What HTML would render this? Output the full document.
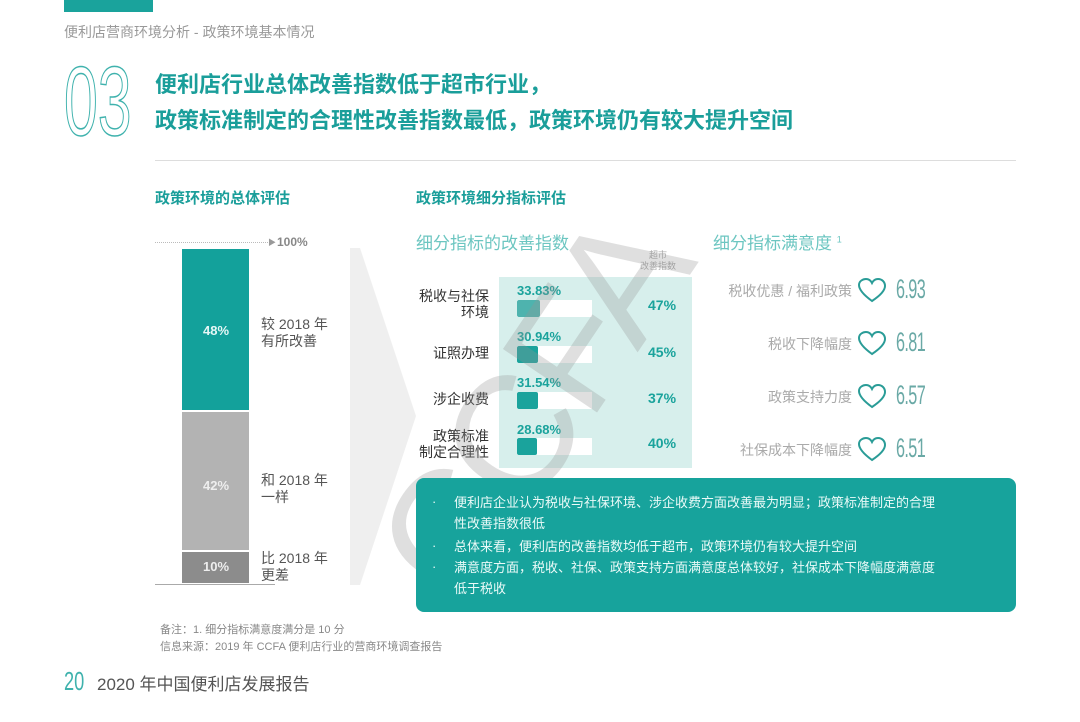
<!DOCTYPE html>
<html><head><meta charset="utf-8"><style>
*{margin:0;padding:0}
body{width:1080px;height:722px;position:relative;background:#fff;overflow:hidden;font-family:"Liberation Sans","Noto Sans CJK SC",sans-serif}
.a{position:absolute;white-space:nowrap}
.t{color:#1a9e9a}
.bar{position:absolute;left:517px;width:75px;height:17px;background:#fff}
.bar i{position:absolute;left:0;top:0;height:17px;width:22px;background:#1aa39c;border-radius:2px}
.v{position:absolute;left:517px;font-size:13px;font-weight:bold;color:#1aa39c}
.p{position:absolute;left:648px;font-size:14px;font-weight:bold;color:#1aa39c}
.lb{position:absolute;right:591px;text-align:right;font-size:14px;color:#333;line-height:16px}
.sl{position:absolute;right:228px;font-size:14px;color:#aaa}
.n{position:absolute;left:896px;font-size:27px;color:#6aa9a6;font-weight:100;transform:scaleX(.6);transform-origin:left;letter-spacing:-1px}
.h{position:absolute;left:857px}
.bx div{position:absolute;left:454px;font-size:13px;color:#eafaf8;line-height:18px}
.bx b{position:absolute;left:432px;color:#eafaf8;font-weight:normal;font-size:13px}
</style></head><body>
<div class="a" style="left:64px;top:0;width:89px;height:12px;background:#1aa39c"></div>
<div class="a" style="left:64px;top:22px;font-size:14px;color:#999">便利店营商环境分析 - 政策环境基本情况</div>
<div class="a" style="left:64px;top:52px;font-size:98px;line-height:98px;color:transparent;-webkit-text-stroke:1.5px #3fb2ad;font-weight:100;transform:scaleX(.62);transform-origin:left">03</div>
<div class="a t" style="left:155px;top:71px;font-size:22px;font-weight:bold;line-height:28px">便利店行业总体改善指数低于超市行业，</div>
<div class="a t" style="left:155px;top:107px;font-size:22px;font-weight:bold;line-height:28px">政策标准制定的合理性改善指数最低，政策环境仍有较大提升空间</div>
<div class="a" style="left:155px;top:160px;width:861px;height:1px;background:#ddd"></div>
<div class="a t" style="left:155px;top:187px;font-size:15px;font-weight:bold">政策环境的总体评估</div>
<div class="a t" style="left:416px;top:187px;font-size:15px;font-weight:bold">政策环境细分指标评估</div>
<!-- left chart -->
<div class="a" style="left:155px;top:242px;width:115px;border-top:1px dotted #bbb"></div>
<div class="a" style="left:268px;top:237px;font-size:8px;color:#999">▶</div>
<div class="a" style="left:277px;top:235px;font-size:12px;font-weight:bold;color:#888">100%</div>
<div class="a" style="left:182px;top:249px;width:67px;height:161px;background:#13a19b"></div>
<div class="a" style="left:182px;top:412px;width:67px;height:138px;background:#b3b3b3"></div>
<div class="a" style="left:182px;top:552px;width:67px;height:31px;background:#8c8c8c"></div>
<div class="a" style="left:155px;top:584px;width:120px;height:1px;background:#aaa"></div>
<div class="a" style="left:203px;top:323px;font-size:13px;font-weight:bold;color:#e6f7f6">48%</div>
<div class="a" style="left:203px;top:478px;font-size:13px;font-weight:bold;color:#eee">42%</div>
<div class="a" style="left:203px;top:559px;font-size:13px;font-weight:bold;color:#eee">10%</div>
<div class="a" style="left:261px;top:316px;font-size:14px;color:#555;line-height:17px">较 2018 年<br>有所改善</div>
<div class="a" style="left:261px;top:472px;font-size:14px;color:#555;line-height:17px">和 2018 年<br>一样</div>
<div class="a" style="left:261px;top:550px;font-size:14px;color:#555;line-height:17px">比 2018 年<br>更差</div>
<svg class="a" style="left:350px;top:248px" width="70" height="340"><polygon points="0,0 10,0 66,168 10,337 0,337" fill="#efefef"/></svg>
<!-- middle -->
<div class="a" style="left:416px;top:229px;font-size:17px;color:#6cc6c1">细分指标的改善指数</div>
<div class="a" style="left:640px;top:250px;font-size:9px;color:#aaa;line-height:11px;text-align:center">超市<br>改善指数</div>
<div class="a" style="left:499px;top:277px;width:193px;height:191px;background:#d7efec"></div>
<div class="lb" style="top:288px">税收与社保<br>环境</div>
<div class="lb" style="top:345px">证照办理</div>
<div class="lb" style="top:391px">涉企收费</div>
<div class="lb" style="top:428px">政策标准<br>制定合理性</div>
<div class="v" style="top:283px">33.83%</div><div class="bar" style="top:300px"><i style="width:23px;background:#4eb3ae"></i></div>
<div class="v" style="top:329px">30.94%</div><div class="bar" style="top:346px"><i style="width:21px"></i></div>
<div class="v" style="top:375px">31.54%</div><div class="bar" style="top:392px"><i style="width:21px"></i></div>
<div class="v" style="top:422px">28.68%</div><div class="bar" style="top:438px"><i style="width:20px"></i></div>
<div class="p" style="top:297px">47%</div>
<div class="p" style="top:344px">45%</div>
<div class="p" style="top:390px">37%</div>
<div class="p" style="top:435px">40%</div>
<!-- watermark -->
<div class="a" style="left:0;top:0;width:600px;text-align:center;font-size:165px;line-height:170px;color:rgba(150,150,150,.3);transform:translate(232px,322px) rotate(-56deg);letter-spacing:-6px">CCFA</div>
<!-- right -->
<div class="a" style="left:713px;top:229px;font-size:17px;color:#6cc6c1">细分指标满意度 <sup style="font-size:9px">1</sup></div>
<div class="sl" style="top:281px">税收优惠 / 福利政策</div>
<div class="sl" style="top:334px">税收下降幅度</div>
<div class="sl" style="top:387px">政策支持力度</div>
<div class="sl" style="top:440px">社保成本下降幅度</div>
<svg class="h" style="top:278px" width="30" height="26"><path d="M15 23 C4 15 2 10 2 7 C2 3 6 1 9 1 C12 1 14 3 15 5 C16 3 18 1 21 1 C25 1 28 4 28 8 C28 12 24 17 15 23Z" fill="none" stroke="#2a9c97" stroke-width="2"/></svg>
<svg class="h" style="top:331px" width="30" height="26"><path d="M15 23 C4 15 2 10 2 7 C2 3 6 1 9 1 C12 1 14 3 15 5 C16 3 18 1 21 1 C25 1 28 4 28 8 C28 12 24 17 15 23Z" fill="none" stroke="#2a9c97" stroke-width="2"/></svg>
<svg class="h" style="top:384px" width="30" height="26"><path d="M15 23 C4 15 2 10 2 7 C2 3 6 1 9 1 C12 1 14 3 15 5 C16 3 18 1 21 1 C25 1 28 4 28 8 C28 12 24 17 15 23Z" fill="none" stroke="#2a9c97" stroke-width="2"/></svg>
<svg class="h" style="top:437px" width="30" height="26"><path d="M15 23 C4 15 2 10 2 7 C2 3 6 1 9 1 C12 1 14 3 15 5 C16 3 18 1 21 1 C25 1 28 4 28 8 C28 12 24 17 15 23Z" fill="none" stroke="#2a9c97" stroke-width="2"/></svg>
<div class="n" style="top:274px">6.93</div>
<div class="n" style="top:327px">6.81</div>
<div class="n" style="top:380px">6.57</div>
<div class="n" style="top:433px">6.51</div>
<!-- box -->
<div class="bx">
<div class="a" style="left:416px;top:478px;width:600px;height:134px;background:#17a39c;border-radius:8px"></div>
<b class="a" style="top:494px">·</b><div style="top:494px">便利店企业认为税收与社保环境、涉企收费方面改善最为明显；政策标准制定的合理</div>
<div style="top:515px">性改善指数很低</div>
<b class="a" style="top:538px">·</b><div style="top:538px">总体来看，便利店的改善指数均低于超市，政策环境仍有较大提升空间</div>
<b class="a" style="top:559px">·</b><div style="top:559px">满意度方面，税收、社保、政策支持方面满意度总体较好，社保成本下降幅度满意度</div>
<div style="top:580px">低于税收</div>
</div>
<div class="a" style="left:160px;top:621px;font-size:11px;color:#888">备注：1. 细分指标满意度满分是 10 分</div>
<div class="a" style="left:160px;top:638px;font-size:11px;color:#888">信息来源：2019 年 CCFA 便利店行业的营商环境调查报告</div>
<div class="a" style="left:64px;top:666px;font-size:26px;color:#3fb2ad;font-weight:100;transform:scaleX(.7);transform-origin:left">20</div>
<div class="a" style="left:97px;top:670px;font-size:17px;color:#555">2020 年中国便利店发展报告</div>
</body></html>
